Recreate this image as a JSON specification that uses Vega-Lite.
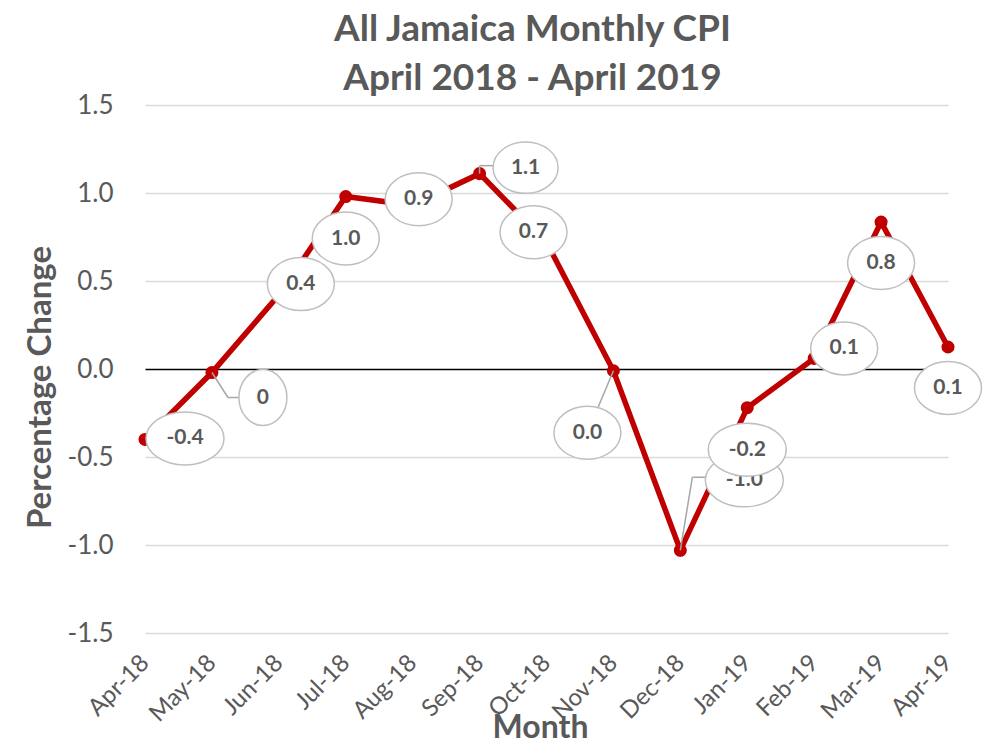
{
  "$schema": "https://vega.github.io/schema/vega-lite/v6.json",
  "width": 803,
  "height": 528,
  "autosize": "none",
  "padding": {"left": 145, "top": 105, "right": 43, "bottom": 112},
  "background": "white",
  "config": {"font": "Lato", "view": {"stroke": null}},
  "title": {
    "text": ["All Jamaica Monthly CPI", "April 2018 - April 2019"],
    "fontSize": 37,
    "fontWeight": "bold",
    "color": "#595959",
    "lineHeight": 49,
    "anchor": "middle",
    "offset": -6,
    "dx": -14
  },
  "data": {
    "values": [
      {"month": "Apr-18", "value": -0.40, "label": "-0.4"},
      {"month": "May-18", "value": -0.02, "label": "0"},
      {"month": "Jun-18", "value": 0.42, "label": "0.4"},
      {"month": "Jul-18", "value": 0.98, "label": "1.0"},
      {"month": "Aug-18", "value": 0.93, "label": "0.9"},
      {"month": "Sep-18", "value": 1.11, "label": "1.1"},
      {"month": "Oct-18", "value": 0.72, "label": "0.7"},
      {"month": "Nov-18", "value": -0.01, "label": "0.0"},
      {"month": "Dec-18", "value": -1.03, "label": "-1.0"},
      {"month": "Jan-19", "value": -0.22, "label": "-0.2"},
      {"month": "Feb-19", "value": 0.06, "label": "0.1"},
      {"month": "Mar-19", "value": 0.835, "label": "0.8"},
      {"month": "Apr-19", "value": 0.125, "label": "0.1"}
    ]
  },
  "encoding": {
    "x": {
      "field": "month",
      "type": "ordinal",
      "sort": null,
      "scale": {"type": "point", "padding": 0},
      "axis": {
        "title": "Month",
        "titleFontSize": 32,
        "titleFontWeight": "bold",
        "titleColor": "#595959",
        "titleBaseline": "alphabetic",
        "titleY": 104,
        "titleX": 395,
        "labelAngle": -45,
        "labelAlign": "right",
        "labelBaseline": "middle",
        "labelFontSize": 24,
        "labelColor": "#595959",
        "labelPadding": 26,
        "ticks": false,
        "domain": false,
        "grid": false
      }
    },
    "y": {
      "field": "value",
      "type": "quantitative",
      "scale": {"domain": [-1.5, 1.5], "nice": false},
      "axis": {
        "title": "Percentage Change",
        "titleFontSize": 33,
        "titleFontWeight": "bold",
        "titleColor": "#595959",
        "titlePadding": 10,
        "titleY": 282,
        "values": [-1.5, -1, -0.5, 0, 0.5, 1, 1.5],
        "labelExpr": "replace(format(datum.value, '.1f'), '\u2212', '-')",
        "labelFontSize": 26,
        "labelColor": "#595959",
        "labelPadding": 32,
        "ticks": false,
        "domain": false,
        "grid": true,
        "gridColor": {"condition": {"test": "datum.value === 0", "value": "#000000"}, "value": "#d9d9d9"},
        "gridWidth": 1.5
      }
    }
  },
  "layer": [
    {"mark": {"type": "line", "color": "#C00000", "strokeWidth": 5.5}},
    {"mark": {"type": "point", "filled": true, "color": "#C00000", "size": 170, "opacity": 1}},
    {
      "transform": [{"filter": "datum.month === 'Apr-18'"}],
      "layer": [
        {"mark": {"type": "point", "shape": "M-1,0A1,0.68,0,1,0,1,0A1,0.68,0,1,0,-1,0Z", "size": 6084, "fill": "white", "fillOpacity": 1, "stroke": "#bfbfbf", "strokeWidth": 1.5, "opacity": 1, "xOffset": 40, "yOffset": -1}},
        {"mark": {"type": "text", "fontWeight": "bold", "fontSize": 21, "color": "#595959", "xOffset": 40, "yOffset": -1}, "encoding": {"text": {"field": "label"}}}
      ]
    },
    {
      "transform": [{"filter": "datum.month === 'May-18'"}],
      "layer": [
        {"mark": {"type": "rule", "stroke": "#a6a6a6", "strokeWidth": 1.5, "x2Offset": 16, "y2Offset": 25}, "encoding": {"x2": {"field": "month"}, "y2": {"field": "value"}}},
        {"mark": {"type": "rule", "stroke": "#a6a6a6", "strokeWidth": 1.5, "xOffset": 16, "yOffset": 25, "x2Offset": 40, "y2Offset": 25}, "encoding": {"x2": {"field": "month"}, "y2": {"field": "value"}}},
        {"mark": {"type": "point", "shape": "M-0.857,0A0.857,1,0,1,0,0.857,0A0.857,1,0,1,0,-0.857,0Z", "size": 3136, "fill": "white", "fillOpacity": 1, "stroke": "#bfbfbf", "strokeWidth": 1.5, "opacity": 1, "xOffset": 51, "yOffset": 25}},
        {"mark": {"type": "text", "fontWeight": "bold", "fontSize": 21, "color": "#595959", "xOffset": 51, "yOffset": 25}, "encoding": {"text": {"field": "label"}}}
      ]
    },
    {
      "transform": [{"filter": "datum.month === 'Jun-18'"}],
      "layer": [
        {"mark": {"type": "point", "shape": "M-1,0A1,0.79,0,1,0,1,0A1,0.79,0,1,0,-1,0Z", "size": 4489, "fill": "white", "fillOpacity": 1, "stroke": "#bfbfbf", "strokeWidth": 1.5, "opacity": 1, "xOffset": 22, "yOffset": -11}},
        {"mark": {"type": "text", "fontWeight": "bold", "fontSize": 21, "color": "#595959", "xOffset": 22, "yOffset": -11}, "encoding": {"text": {"field": "label"}}}
      ]
    },
    {
      "transform": [{"filter": "datum.month === 'Jul-18'"}],
      "layer": [
        {"mark": {"type": "point", "shape": "M-1,0A1,0.79,0,1,0,1,0A1,0.79,0,1,0,-1,0Z", "size": 4489, "fill": "white", "fillOpacity": 1, "stroke": "#bfbfbf", "strokeWidth": 1.5, "opacity": 1, "xOffset": 0, "yOffset": 42}},
        {"mark": {"type": "text", "fontWeight": "bold", "fontSize": 21, "color": "#595959", "xOffset": 0, "yOffset": 42}, "encoding": {"text": {"field": "label"}}}
      ]
    },
    {
      "transform": [{"filter": "datum.month === 'Aug-18'"}],
      "layer": [
        {"mark": {"type": "point", "shape": "M-1,0A1,0.79,0,1,0,1,0A1,0.79,0,1,0,-1,0Z", "size": 4489, "fill": "white", "fillOpacity": 1, "stroke": "#bfbfbf", "strokeWidth": 1.5, "opacity": 1, "xOffset": 6, "yOffset": -6}},
        {"mark": {"type": "text", "fontWeight": "bold", "fontSize": 21, "color": "#595959", "xOffset": 6, "yOffset": -6}, "encoding": {"text": {"field": "label"}}}
      ]
    },
    {
      "transform": [{"filter": "datum.month === 'Sep-18'"}],
      "layer": [
        {"mark": {"type": "rule", "stroke": "#a6a6a6", "strokeWidth": 1.5, "x2Offset": 0, "y2Offset": -8}, "encoding": {"x2": {"field": "month"}, "y2": {"field": "value"}}},
        {"mark": {"type": "rule", "stroke": "#a6a6a6", "strokeWidth": 1.5, "xOffset": 0, "yOffset": -8, "x2Offset": 30, "y2Offset": -8}, "encoding": {"x2": {"field": "month"}, "y2": {"field": "value"}}},
        {"mark": {"type": "point", "shape": "M-1,0A1,0.79,0,1,0,1,0A1,0.79,0,1,0,-1,0Z", "size": 4225, "fill": "white", "fillOpacity": 1, "stroke": "#bfbfbf", "strokeWidth": 1.5, "opacity": 1, "xOffset": 46, "yOffset": -6}},
        {"mark": {"type": "text", "fontWeight": "bold", "fontSize": 21, "color": "#595959", "xOffset": 46, "yOffset": -6}, "encoding": {"text": {"field": "label"}}}
      ]
    },
    {
      "transform": [{"filter": "datum.month === 'Oct-18'"}],
      "layer": [
        {"mark": {"type": "point", "shape": "M-1,0A1,0.79,0,1,0,1,0A1,0.79,0,1,0,-1,0Z", "size": 4489, "fill": "white", "fillOpacity": 1, "stroke": "#bfbfbf", "strokeWidth": 1.5, "opacity": 1, "xOffset": -13, "yOffset": -10}},
        {"mark": {"type": "text", "fontWeight": "bold", "fontSize": 21, "color": "#595959", "xOffset": -13, "yOffset": -10}, "encoding": {"text": {"field": "label"}}}
      ]
    },
    {
      "transform": [{"filter": "datum.month === 'Nov-18'"}],
      "layer": [
        {"mark": {"type": "rule", "stroke": "#a6a6a6", "strokeWidth": 1.5, "x2Offset": -26, "y2Offset": 62}, "encoding": {"x2": {"field": "month"}, "y2": {"field": "value"}}},
        {"mark": {"type": "point", "shape": "M-1,0A1,0.79,0,1,0,1,0A1,0.79,0,1,0,-1,0Z", "size": 4489, "fill": "white", "fillOpacity": 1, "stroke": "#bfbfbf", "strokeWidth": 1.5, "opacity": 1, "xOffset": -26, "yOffset": 62}},
        {"mark": {"type": "text", "fontWeight": "bold", "fontSize": 21, "color": "#595959", "xOffset": -26, "yOffset": 62}, "encoding": {"text": {"field": "label"}}}
      ]
    },
    {
      "transform": [{"filter": "datum.month === 'Dec-18'"}],
      "layer": [
        {"mark": {"type": "rule", "stroke": "#a6a6a6", "strokeWidth": 1.5, "x2Offset": 12, "y2Offset": -73}, "encoding": {"x2": {"field": "month"}, "y2": {"field": "value"}}},
        {"mark": {"type": "rule", "stroke": "#a6a6a6", "strokeWidth": 1.5, "xOffset": 12, "yOffset": -73, "x2Offset": 40, "y2Offset": -73}, "encoding": {"x2": {"field": "month"}, "y2": {"field": "value"}}},
        {"mark": {"type": "point", "shape": "M-1,0A1,0.68,0,1,0,1,0A1,0.68,0,1,0,-1,0Z", "size": 6084, "fill": "white", "fillOpacity": 1, "stroke": "#bfbfbf", "strokeWidth": 1.5, "opacity": 1, "xOffset": 64, "yOffset": -70}},
        {"mark": {"type": "text", "fontWeight": "bold", "fontSize": 21, "color": "#595959", "xOffset": 64, "yOffset": -70}, "encoding": {"text": {"field": "label"}}}
      ]
    },
    {
      "transform": [{"filter": "datum.month === 'Jan-19'"}],
      "layer": [
        {"mark": {"type": "point", "shape": "M-1,0A1,0.68,0,1,0,1,0A1,0.68,0,1,0,-1,0Z", "size": 6084, "fill": "white", "fillOpacity": 1, "stroke": "#bfbfbf", "strokeWidth": 1.5, "opacity": 1, "xOffset": 0, "yOffset": 42}},
        {"mark": {"type": "text", "fontWeight": "bold", "fontSize": 21, "color": "#595959", "xOffset": 0, "yOffset": 42}, "encoding": {"text": {"field": "label"}}}
      ]
    },
    {
      "transform": [{"filter": "datum.month === 'Feb-19'"}],
      "layer": [
        {"mark": {"type": "point", "shape": "M-1,0A1,0.79,0,1,0,1,0A1,0.79,0,1,0,-1,0Z", "size": 4489, "fill": "white", "fillOpacity": 1, "stroke": "#bfbfbf", "strokeWidth": 1.5, "opacity": 1, "xOffset": 30, "yOffset": -10}},
        {"mark": {"type": "text", "fontWeight": "bold", "fontSize": 21, "color": "#595959", "xOffset": 30, "yOffset": -10}, "encoding": {"text": {"field": "label"}}}
      ]
    },
    {
      "transform": [{"filter": "datum.month === 'Mar-19' || datum.month === 'Apr-19'"}],
      "layer": [
        {"mark": {"type": "point", "shape": "M-1,0A1,0.79,0,1,0,1,0A1,0.79,0,1,0,-1,0Z", "size": 4489, "fill": "white", "fillOpacity": 1, "stroke": "#bfbfbf", "strokeWidth": 1.5, "opacity": 1, "xOffset": 0, "yOffset": 41}},
        {"mark": {"type": "text", "fontWeight": "bold", "fontSize": 21, "color": "#595959", "xOffset": 0, "yOffset": 41}, "encoding": {"text": {"field": "label"}}}
      ]
    }
  ]
}
